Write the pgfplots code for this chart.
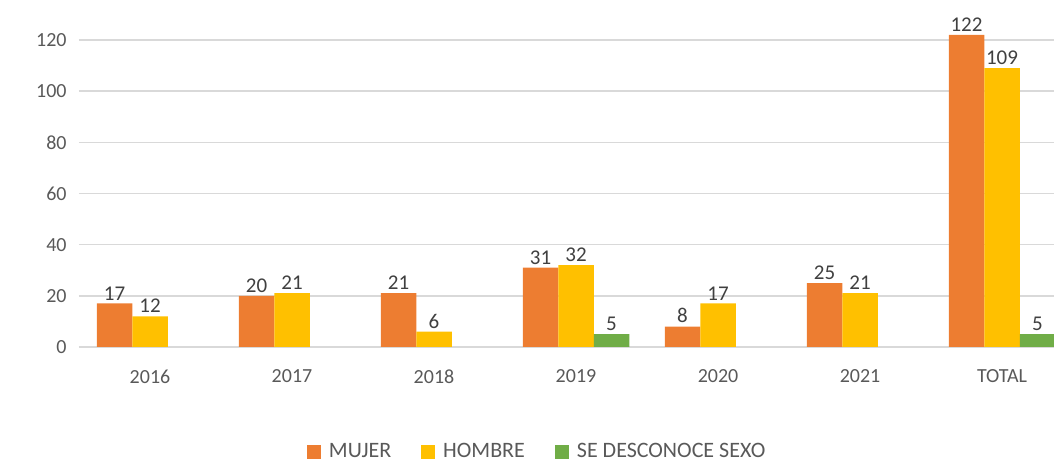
\documentclass[border=0pt]{standalone}
\usepackage{fontspec}
\setmainfont{Carlito}
\usepackage{pgfplots}
\pgfplotsset{compat=1.18}
\definecolor{cMujer}{HTML}{ED7D31}
\definecolor{cHombre}{HTML}{FFC000}
\definecolor{cDesc}{HTML}{70AD47}
\definecolor{cTick}{HTML}{595959}
\definecolor{cLab}{HTML}{404040}
\definecolor{cGrid}{HTML}{D9D9D9}
\begin{document}
\begin{tikzpicture}
\path[use as bounding box] (0,0) rectangle (527pt,237pt);
\begin{axis}[
  at={(39.5pt,63.5pt)}, anchor=south west,
  scale only axis, width=487.5pt, height=173.5pt,
  xmin=-0.5, xmax=6.366, ymin=0, ymax=135.6,
  axis line style={draw=none},
  ybar, bar width=0.25,
  xtick={0,1,2,3,4,5,6},
  xticklabels={2016,2017,2018,2019,2020,2021,TOTAL},
  ytick={0,20,40,60,80,100,120},
  ymajorgrids, grid style={cGrid, line width=0.7pt},
  major tick style={draw=none},
  tick label style={font=\fontsize{10pt}{12pt}\selectfont, text=cTick},
  /pgf/number format/assume math mode=true,
  xticklabel style={yshift=-3.5pt},
  yticklabel style={xshift=-2.7pt},
  nodes near coords,
  every node near coord/.append style={font=\fontsize{10.5pt}{12pt}\selectfont, text=cLab, inner sep=1.5pt},
  legend style={at={(0.471,-0.3026)}, anchor=center, draw=none, fill=none,
    legend columns=-1, font=\fontsize{11pt}{13pt}\selectfont, text=cTick,
    /tikz/every odd column/.append style={column sep=2pt},
    /tikz/every even column/.append style={column sep=13pt}},
  legend image code/.code={\fill[#1] (0pt,-3.5pt) rectangle (7pt,3.5pt);},
  clip=true,
]
\addplot[fill=cMujer, draw=none, bar shift=-0.25] coordinates {(0,17) (1,20) (2,21) (3,31) (4,8) (5,25) (6,122)};
\addplot[fill=cHombre, draw=none, bar shift=0] coordinates {(0,12) (1,21) (2,6) (3,32) (4,17) (5,21) (6,109)};
\addplot[fill=cDesc, draw=none, bar shift=0.25] coordinates {(3,5) (6,5)};
\legend{MUJER, HOMBRE, SE DESCONOCE SEXO}
\end{axis}
\end{tikzpicture}
\end{document}
